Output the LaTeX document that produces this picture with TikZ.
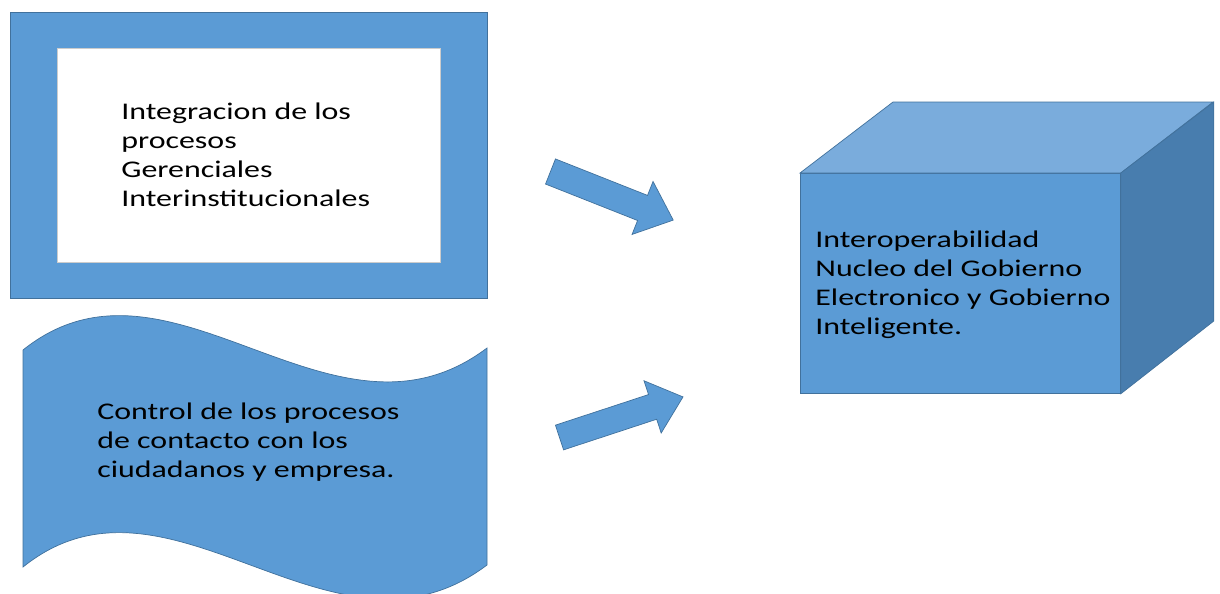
\documentclass[tikz,border=0pt]{standalone}
\usepackage{fontspec}
\setmainfont{Carlito}
\definecolor{officeblue}{HTML}{5B9BD5}
\definecolor{blueedge}{HTML}{41719C}
\definecolor{cubetop}{HTML}{7AACDC}
\definecolor{cubeside}{HTML}{487DAE}

\begin{document}
\begin{tikzpicture}[x=0.025cm,y=-0.025cm,
  bluefill/.style={fill=officeblue,draw=blueedge,line width=0.5pt},
  txt/.style={anchor=west,align=left,inner sep=0pt,font=\fontsize{17}{20.6}\selectfont,xscale=1.335,transform shape},
  cubefront/.style={bluefill,minimum width=8cm,minimum height=5.5cm,anchor=north west,inner sep=0pt}]
\useasboundingbox (0,0) rectangle (1220,593);
% frame with the white window
\draw[bluefill,even odd rule] (10,12) rectangle (487,298) (57,48) rectangle (440,262);
\draw[fill=white,draw=gray!40,line width=0.4pt] (57,48) rectangle (440,262);
\node[txt] (integ) at (121,155) {Integracion de los\\procesos\\Gerenciales\\Interinstitucionales};
% wave
\draw[bluefill] (23,350) .. controls (170,232) and (332,465) .. (487,348) -- (487,565)
  .. controls (332,682) and (170,449) .. (23,567) -- cycle;
\node[txt] (control) at (97,442) {Control de los procesos\\de contacto con los\\ciudadanos y empresa.};
% block arrows
\draw[bluefill,shift={(550.5,171.5)},rotate=-21.6] (0,-13.5) -- (99,-13.5) -- (99,-28.5) -- (132,0) -- (99,28.5) -- (99,13.5) -- (0,13.5) -- cycle;
\draw[bluefill,shift={(559.5,437.5)},rotate=18.2] (0,-13) -- (98,-13) -- (98,-27.5) -- (130,0) -- (98,27.5) -- (98,13) -- (0,13) -- cycle;
% cube
\node[cubefront] (cube) at (800,173) {};
\draw[bluefill,fill=cubetop] (cube.north west) -- ++(93,-71) -- ++(320,0) -- (cube.north east) -- cycle;
\draw[bluefill,fill=cubeside] (cube.north east) -- ++(93,-71) -- ++(0,219) -- (cube.south east) -- cycle;
\node[txt] (interop) at (815,285) {Interoperabilidad\\Nucleo del Gobierno\\Electronico y Gobierno\\Inteligente.};
\end{tikzpicture}
\end{document}
